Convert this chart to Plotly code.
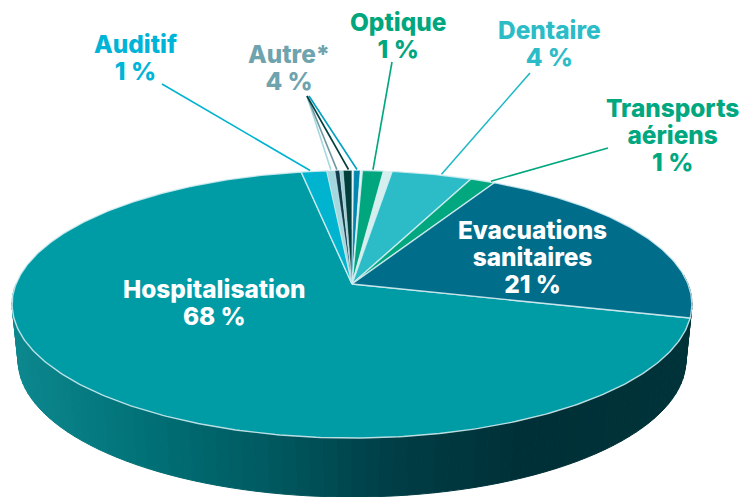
import math
import plotly.graph_objects as go

# ---- data (share of the full pie, %, clockwise from Hospitalisation)
slice_names = ["Hospitalisation", "Auditif", "Autre a", "Autre b", "Autre c", "Autre d", "Autre e", "Autre f",
               "Autre g", "Optique", "Optique b", "Dentaire", "Transports aériens", "Evacuations sanitaires"]
slice_values = [68.0, 1.4, 0.45, 0.25, 0.2, 0.47, 0.1, 0.35, 0.12, 1.15, 0.47, 4.4, 1.36, 21.0]
slice_colors = ["#009ca6", "#00b4d0", "#a5d8de", "#0f3d4c", "#9fd0d6", "#013f3c", "#e8f5f6", "#0088b0",
                "#e8f5f6", "#00a67e", "#d5eeee", "#2cbcc8", "#00a77f", "#006d8b"]
labels = [["Hospitalisation", "68 %"], ["Evacuations", "sanitaires", "21 %"], ["Transports", "aériens", "1 %"],
          ["Dentaire", "4 %"], ["Optique", "1 %"], ["Autre*", "4 %"], ["Auditif", "1 %"]]
label_colors = ["#ffffff", "#ffffff", "#00a77f", "#2cbcc8", "#00a67e", "#6fa3ad", "#00b4d8"]
label_x = [214, 532, 672, 549, 398, 289, 135]
label_y = [302, 256.5, 134.5, 43.5, 35.5, 67.5, 57.5]
# leaders: slice index, position within the slice, label-side end, colour
leaders = [(1, 0.35, 162, 84, "#00b4d0"), (2, 0.5, 307, 96, "#a5d8de"), (3, 0.4, 307, 96, "#6f98a2"),
           (5, 0.6, 307, 96, "#013f3c"), (7, 0.5, 309, 96, "#00a0c0"), (9, 0.5, 392, 62, "#00a67e"),
           (11, 0.62, 530, 73, "#1fb8c4"), (12, 0.85, 608, 148, "#00a77f")]

START_DEG = 104.5
CX, APEX_Y, K, A, C = 352.0, 284.0, 336.0, -87.7, 0.1514


def rim(theta_deg, r=1.0):
    t = math.radians(theta_deg)
    u, v = r * math.sin(t), r * math.cos(t)
    d = 1 + C * v
    return CX + K * u / d, (A * v + APEX_Y) / d


def lower(theta_deg):
    x, y = rim(theta_deg)
    return CX + (x - CX) * 334 / 340, 360 + (y - 304) * 137 / 134


def mix(stops, f):
    for (f0, c0), (f1, c1) in zip(stops, stops[1:]):
        if f <= f1:
            g = (f - f0) / (f1 - f0)
            return "rgb(%d,%d,%d)" % tuple(c0[i] + (c1[i] - c0[i]) * g for i in range(3))
    return "rgb(%d,%d,%d)" % stops[-1][1]


wall_stops = [(0.0, (12, 136, 142)), (0.2, (0, 112, 118)), (0.38, (0, 88, 95)), (0.55, (0, 62, 70)),
              (0.75, (0, 48, 55)), (1.0, (0, 52, 58))]

fig = go.Figure()

# side wall, drawn right to left along the front of the pie
n = 90
for i in range(n):
    a0, a1 = 270 - 184 * i / n, 270 - 184 * (i + 1) / n
    p0, p1, q1, q0 = rim(a0), rim(a1), lower(a1), lower(a0)
    col = mix(wall_stops, (p0[0] - 12) / 680)
    fig.add_trace(go.Scatter(x=[p0[0], p1[0], q1[0], q0[0], p0[0]], y=[p0[1], p1[1], q1[1], q0[1], p0[1]],
                             mode="lines", fill="toself", fillcolor=col, line=dict(color=col, width=1),
                             hoverinfo="skip", showlegend=False))

# top face wedges from the values
total = sum(slice_values)
angle = START_DEG
bounds = []
for name, val, col in zip(slice_names, slice_values, slice_colors):
    span = 360 * val / total
    steps = max(2, int(span * 1.5))
    pts = [rim(angle + span * k / steps) for k in range(steps + 1)]
    xs = [CX] + [p[0] for p in pts] + [CX]
    ys = [APEX_Y] + [p[1] for p in pts] + [APEX_Y]
    thin = val < 0.6
    fig.add_trace(go.Scatter(x=xs, y=ys, mode="lines", fill="toself", fillcolor=col, name=name,
                             line=dict(color="rgba(215,238,242,0.85)", width=0.4 if thin else 1.4),
                             hoverinfo="skip", showlegend=False))
    bounds.append((angle, span))
    angle += span

# leader lines
for idx, frac, lx, ly, col in leaders:
    a0, sp = bounds[idx]
    rx, ry = rim(a0 + sp * frac)
    fig.add_trace(go.Scatter(x=[lx, rx], y=[ly, ry - 1], mode="lines", line=dict(color=col, width=1.6),
                             hoverinfo="skip", showlegend=False))

# base font size sets the line spacing (1.3 em = 27 px); the inner span sets the glyph size
for lines, col, x, y in zip(labels, label_colors, label_x, label_y):
    text = "<br>".join('<span style="font-size:24.4px">%s</span>' % line for line in lines)
    fig.add_annotation(x=x, y=y, xref="x", yref="y", text=text, showarrow=False, align="center", borderpad=0,
                       font=dict(family="Inter, Lato, sans-serif", size=20.8, weight=800, color=col))

fig.update_layout(width=739, height=497, margin=dict(l=0, r=0, t=0, b=0), paper_bgcolor="white",
                  plot_bgcolor="white", showlegend=False,
                  xaxis=dict(range=[0, 739], visible=False, fixedrange=True),
                  yaxis=dict(range=[497, 0], visible=False, fixedrange=True))
fig.write_html("out.html", config=dict(displayModeBar=False),
               post_script="document.body.style.margin='0';document.documentElement.style.overflow='hidden';")
